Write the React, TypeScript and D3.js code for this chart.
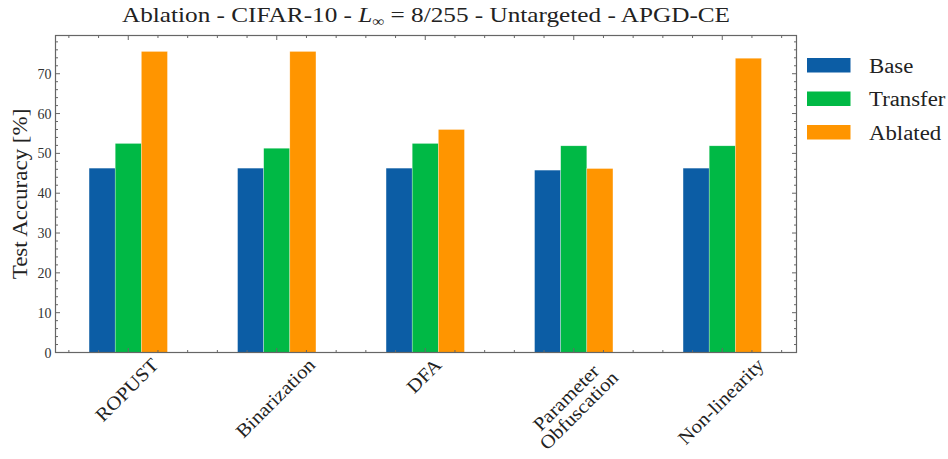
import React from "react";
import * as d3 from "d3";

const categories = ["ROPUST", "Binarization", "DFA", "Parameter\nObfuscation", "Non-linearity"];
const seriesNames = ["Base", "Transfer", "Ablated"];
const baseValues = [46.3, 46.3, 46.3, 45.8, 46.3];
const transferValues = [52.5, 51.3, 52.5, 51.9, 51.9];
const ablatedValues = [75.6, 75.6, 56.0, 46.2, 73.9];
const colors = ["#0C5DA5", "#00B945", "#FF9500"];
const yTicks = [0, 10, 20, 30, 40, 50, 60, 70];

const W = 948, H = 459;
const L = 55.5, R = 796.5, T = 35.5, B = 352.5;
const FONT_NAME = "Liberation Serif";
const FONT = "'Liberation Serif', 'DejaVu Serif', serif";
const WIDEN = 1.14;

let ctx: CanvasRenderingContext2D | null = null;
function measure(text: string, size: number): number {
  if (!ctx) ctx = document.createElement("canvas").getContext("2d");
  if (!ctx) return text.length * size * 0.5;
  ctx.font = `${size}px '${FONT_NAME}'`;
  return ctx.measureText(text).width;
}

export default function App() {
  const series = [baseValues, transferValues, ablatedValues];
  const x = d3.scaleLinear().domain([-0.49, 4.5]).range([L, R]);
  const y = d3.scaleLinear().domain([0, 79.6]).range([B, T]);
  const barW = 0.176;

  const yMinor = d3.range(0, 80, 2).filter((v) => v % 10 !== 0);
  const xMinor = d3.range(-0.4, 4.45, 0.2).filter((v) => Math.abs(v - Math.round(v)) > 0.01);
  const axisColor = "#666";
  const xFs = 19;
  const lineH = 18;
  const xWiden = 1.1;

  return (
    <svg width={W} height={H} style={{ position: "absolute", left: 0, top: 0, background: "#fff" }} fontFamily={FONT}>
      <text x={(L + R) / 2} y={22} textAnchor="middle" fontSize={21} fill="#222" textLength={608} lengthAdjust="spacingAndGlyphs">
        Ablation - CIFAR-10 - <tspan fontStyle="italic">L</tspan>
        <tspan fontSize={14} dy={4}>∞</tspan>
        <tspan dy={-4}> = 8/255 - Untargeted - APGD-CE</tspan>
      </text>

      {series.map((vals, si) =>
        vals.map((v, ci) => {
          const x0 = x(ci + (si - 1.5) * barW);
          return (
            <rect key={`${si}-${ci}`} x={x0} y={y(v)} width={x(ci + (si - 0.5) * barW) - x0} height={B - y(v)}
              fill={colors[si]} stroke="#fff" strokeWidth={0.5} strokeOpacity={0.6} />
          );
        })
      )}

      <rect x={L} y={T} width={R - L} height={B - T} fill="none" stroke={axisColor} strokeWidth={1.2} />

      {yTicks.map((t) => (
        <g key={`yt${t}`}>
          <line x1={L} x2={L + 4.5} y1={y(t)} y2={y(t)} stroke={axisColor} />
          <line x1={R} x2={R - 4.5} y1={y(t)} y2={y(t)} stroke={axisColor} />
          <text x={L - 4} y={y(t) + 5} textAnchor="end" fontSize={14} fill="#333">{t}</text>
        </g>
      ))}
      {yMinor.map((t) => (
        <g key={`ym${t}`}>
          <line x1={L} x2={L + 2.5} y1={y(t)} y2={y(t)} stroke={axisColor} />
          <line x1={R} x2={R - 2.5} y1={y(t)} y2={y(t)} stroke={axisColor} />
        </g>
      ))}
      {categories.map((c, i) => (
        <g key={`xt${i}`}>
          <line x1={x(i)} x2={x(i)} y1={B} y2={B - 4.5} stroke={axisColor} />
          <line x1={x(i)} x2={x(i)} y1={T} y2={T + 4.5} stroke={axisColor} />
        </g>
      ))}
      {xMinor.map((t, i) => (
        <g key={`xm${i}`}>
          <line x1={x(t)} x2={x(t)} y1={B} y2={B - 2.5} stroke={axisColor} />
          <line x1={x(t)} x2={x(t)} y1={T} y2={T + 2.5} stroke={axisColor} />
        </g>
      ))}

      {categories.map((c, i) => {
        const lines = c.split("\n");
        const widths = lines.map((ln) => measure(ln, xFs) * xWiden);
        const w = Math.max(...widths);
        const h = lines.length * lineH;
        const half = (w + h) / (2 * Math.SQRT2);
        const cx = x(i);
        const cy = B + 4 + half;
        return (
          <text key={`xl${i}`} transform={`translate(${cx},${cy}) rotate(-45)`} textAnchor="middle" fontSize={xFs} fill="#222">
            {lines.map((ln, k) => (
              <tspan key={k} x={0} y={-h / 2 + lineH * k + lineH * 0.75} textLength={widths[k]} lengthAdjust="spacingAndGlyphs">{ln}</tspan>
            ))}
          </text>
        );
      })}

      <text transform={`translate(27,${(T + B) / 2}) rotate(-90)`} textAnchor="middle" fontSize={20} fill="#222"
        textLength={measure("Test Accuracy [%]", 20) * WIDEN} lengthAdjust="spacingAndGlyphs">
        Test Accuracy [%]
      </text>

      {seriesNames.map((s, i) => (
        <g key={`lg${i}`} transform={`translate(807,${58 + i * 33.5})`}>
          <rect x={0} y={0} width={43.5} height={14.5} fill={colors[i]} />
          <text x={62} y={14.5} fontSize={20} fill="#222" textLength={measure(s, 20) * WIDEN} lengthAdjust="spacingAndGlyphs">{s}</text>
        </g>
      ))}
    </svg>
  );
}
